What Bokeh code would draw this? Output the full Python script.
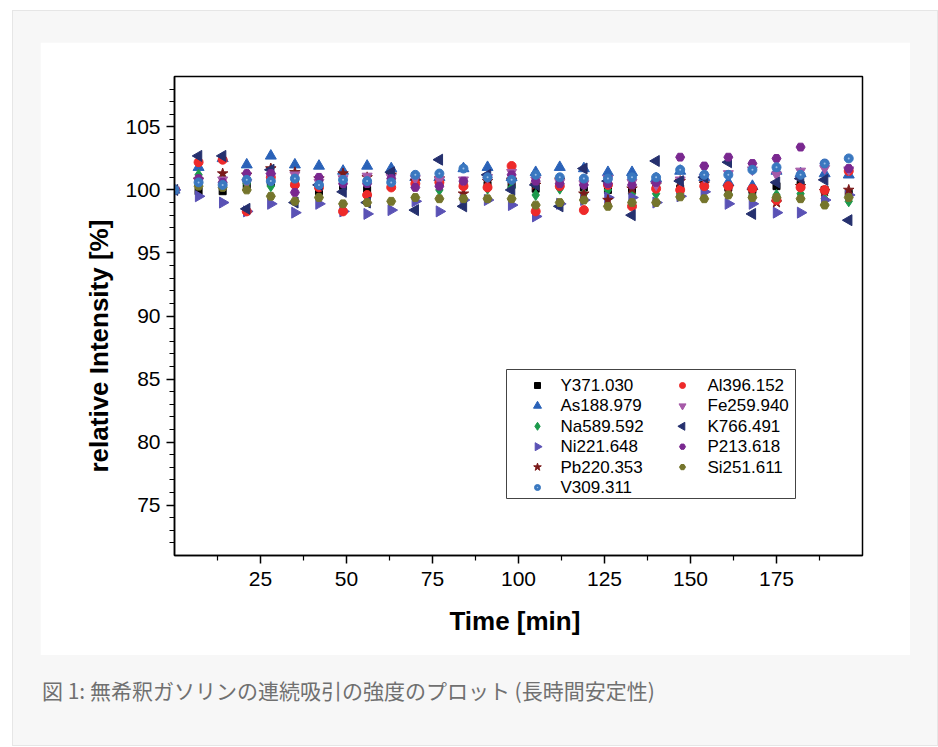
import math
from bokeh.plotting import figure
from bokeh.models import FixedTicker, Div, Range1d, Title
from bokeh.core.properties import value
from bokeh.layouts import column
from bokeh.embed import file_html
from bokeh.resources import INLINE

time = [0, 7, 14, 21, 28, 35, 42, 49, 56, 63, 70, 77, 84, 91, 98, 105, 112,
        119, 126, 133, 140, 147, 154, 161, 168, 175, 182, 189, 196]

Y371 = [100, 99.9, 99.9, 100.4, 100.6, 100.5, 99.9, 100.3, 100.0, 101.0, 100.8, 100.7, 100.4, 100.4, 100.4,
        100.1, 100.5, 100.2, 100.0, 100.0, 100.4, 100.1, 100.6, 100.2, 100.0, 100.3, 100.4, 100.0, 99.7]
As188 = [100, 101.8, 102.5, 102.0, 102.7, 102.0, 101.9, 101.5, 101.9, 101.7, 101.0, 101.0, 101.7, 101.8, 101.0,
         101.4, 101.8, 101.7, 101.4, 101.4, 100.9, 101.5, 101.0, 100.6, 100.3, 101.5, 101.3, 101.3, 101.2]
Na589 = [100, 101.2, 101.0, 100.5, 100.3, 100.6, 100.4, 100.6, 100.6, 100.8, 100.6, 100.0, 100.3, 100.1, 100.2,
         99.6, 100.1, 99.7, 100.0, 99.7, 99.7, 99.7, 100.1, 99.7, 99.6, 99.6, 99.7, 99.3, 99.1]
Ni221 = [100, 99.5, 99.0, 98.3, 98.9, 98.2, 98.9, 98.3, 98.1, 98.4, 99.1, 98.3, 99.2, 99.2, 98.8,
         97.9, 98.9, 99.2, 99.4, 99.4, 99.0, 99.5, 99.85, 98.9, 98.9, 98.2, 98.2, 99.2, 99.6]
Pb220 = [100, 100.8, 101.3, 101.2, 101.7, 101.4, 100.9, 101.3, 101.0, 101.2, 100.7, 100.9, 99.7, 100.7, 100.8,
         100.4, 100.8, 99.7, 99.2, 100.1, 100.4, 100.7, 100.5, 100.2, 99.9, 99.0, 100.3, 99.9, 100.0]
V309 = [100, 100.6, 100.4, 100.8, 100.7, 100.9, 100.4, 100.8, 100.7, 100.6, 101.2, 101.3, 101.7, 101.0, 100.8,
        101.2, 101.0, 100.9, 100.9, 101.0, 101.0, 101.6, 101.2, 101.2, 101.6, 101.8, 101.2, 102.1, 102.5]
Al396 = [100, 102.2, 102.4, 98.3, 101.0, 100.4, 100.2, 98.3, 99.6, 100.2, 100.5, 100.6, 100.3, 100.2, 101.9,
         98.3, 100.3, 98.4, 100.4, 98.7, 100.1, 100.0, 100.3, 100.3, 100.1, 99.2, 100.2, 100.0, 101.5]
Fe259 = [100, 100.7, 100.8, 100.6, 101.1, 101.2, 100.6, 100.9, 101.1, 101.0, 100.9, 100.8, 100.8, 101.0, 101.4,
         100.8, 100.6, 100.5, 100.9, 100.6, 100.4, 100.8, 101.0, 101.3, 101.6, 101.2, 101.5, 101.7, 101.6]
K766 = [100, 102.7, 102.7, 98.5, 101.6, 99.0, 100.4, 99.85, 99.0, 101.4, 98.4, 102.4, 98.7, 101.2, 100.0,
        100.4, 98.7, 101.7, 100.7, 98.0, 102.3, 100.7, 101.0, 102.2, 98.1, 100.6, 100.9, 100.8, 97.6]
P213 = [100, 100.9, 100.6, 101.3, 101.3, 99.8, 101.0, 100.5, 100.5, 100.9, 100.2, 100.3, 100.7, 101.0, 101.2,
        100.7, 100.5, 100.4, 100.5, 100.4, 100.6, 102.6, 101.9, 102.6, 102.1, 102.5, 103.4, 102.1, 101.7]
Si251 = [100, 100.3, 100.2, 100.0, 99.5, 99.1, 99.4, 98.9, 99.0, 99.1, 99.4, 99.3, 99.3, 99.3, 99.3,
         98.8, 99.0, 99.2, 98.7, 99.0, 99.0, 99.45, 99.3, 99.6, 99.4, 99.4, 99.3, 98.8, 99.4]

labels = ["Y371.030", "As188.979", "Na589.592", "Ni221.648", "Pb220.353", "V309.311",
          "Al396.152", "Fe259.940", "K766.491", "P213.618", "Si251.611"]
series = [Y371, As188, Na589, Ni221, Pb220, V309, Al396, Fe259, K766, P213, Si251]

x_ticks = [25, 50, 75, 100, 125, 150, 175]
y_ticks = [75, 80, 85, 90, 95, 100, 105]

# styles (marker, size, angle, colour) per series, same order as labels
markers = ["square", "triangle", "diamond", "triangle", "star", "circle",
           "circle", "inverted_triangle", "triangle", "hex", "hex"]
sizes = [7, 11, 11, 11, 11, 9, 9, 10, 11, 9, 9]
angles = [0, 0, 0, -math.pi / 2, 0, 0, 0, 0, math.pi / 2, 0, 0]
colors = ["#000000", "#2a62b8", "#1b9a4c", "#5a52b5", "#7b1a1a", "#3a78c0",
          "#ee2a2a", "#a65aa8", "#25306e", "#7a2890", "#75752c"]
draw_order = [0, 1, 2, 3, 4, 6, 7, 8, 9, 10, 5]
V_HI = "#9cc0e8"

FONT = "Liberation Sans"
FW, FH = 688, 479  # frame size in px

p = figure(width=870, height=613, output_backend="svg", toolbar_location=None,
           x_range=Range1d(0, 200), y_range=Range1d(71, 109),
           min_border_left=134, min_border_right=48, min_border_top=34, min_border_bottom=100,
           background_fill_color="white", border_fill_color="white")
p.extra_x_ranges = {"px": Range1d(0, FW)}
p.extra_y_ranges = {"py": Range1d(0, FH)}
p.margin = (31, 0, 0, 27)
p.grid.visible = False
p.outline_line_color = "black"
p.outline_line_width = 1.5

p.xaxis.ticker = FixedTicker(ticks=x_ticks, minor_ticks=[12.5 + 25 * i for i in range(8)])
p.yaxis.ticker = FixedTicker(ticks=y_ticks, minor_ticks=list(range(72, 109)))
for ax in (p.xaxis[0], p.yaxis[0]):
    ax.axis_line_color = "black"
    ax.axis_line_width = 1.5
    ax.major_tick_line_width = 1.5
    ax.minor_tick_line_width = 1.2
    ax.major_tick_in = 0
    ax.major_tick_out = 8
    ax.minor_tick_in = 0
    ax.minor_tick_out = 5
    ax.major_label_text_font = FONT
    ax.major_label_text_font_size = "21px"
    ax.major_label_text_color = "black"
    ax.axis_label_text_font = FONT
    ax.axis_label_text_font_size = "26px"
    ax.axis_label_text_font_style = "bold"
    ax.axis_label_text_color = "black"

p.xaxis.axis_label = "Time  [min]"
p.xaxis.major_label_standoff = 8
p.xaxis.axis_label_standoff = 17
p.yaxis.major_label_standoff = 6

ytitle = Title(text="relative Intensity [%]", align="left", offset=83, standoff=18,
               text_font=FONT, text_font_size="26px", text_font_style="bold", text_color="black")
p.add_layout(ytitle, "left")

for i in draw_order:
    p.scatter(time, series[i], marker=markers[i], size=sizes[i], angle=angles[i], color=colors[i])
    if i == 5:
        p.scatter(time, series[i], marker="circle", size=2, line_width=0, color=V_HI)

# legend box, drawn in frame pixel coordinates
p.quad(left=[332], right=[621], bottom=[57], top=[186], x_range_name="px", y_range_name="py",
       fill_color="white", line_color="#444444", line_width=1)
gx = [363 if i < 6 else 508 for i in range(len(labels))]
tx = [386 if i < 6 else 533 for i in range(len(labels))]
gy = [170 - 20.4 * (i % 6) for i in range(len(labels))]
for i in range(len(labels)):
    p.scatter([gx[i]], [gy[i]], marker=markers[i], size=max(sizes[i] - 3, 6), angle=angles[i],
              color=colors[i], x_range_name="px", y_range_name="py")
    if i == 5:
        p.scatter([gx[i]], [gy[i]], marker="circle", size=1.5, line_width=0, color=V_HI,
                  x_range_name="px", y_range_name="py")
p.text(x=tx, y=gy, text=labels, x_range_name="px", y_range_name="py",
       text_font=value(FONT), text_font_size="17px", text_baseline="middle", text_color="black")

cap = Div(text="図 1: 無希釈ガソリンの連続吸引の強度のプロット (長時間安定性)",
          styles={"font-family": "'Noto Sans CJK JP'", "font-size": "21px", "color": "#707070",
                  "white-space": "nowrap"},
          width=870, height=32)
cap.margin = (20, 0, 0, 29)

lay = column(p, cap, width=926, height=736,
             styles={"background-color": "#f7f7f7", "border": "1px solid #e6e6e6"})
lay.margin = (10, 0, 0, 12)

open("out.html", "w").write(file_html(lay, INLINE))
